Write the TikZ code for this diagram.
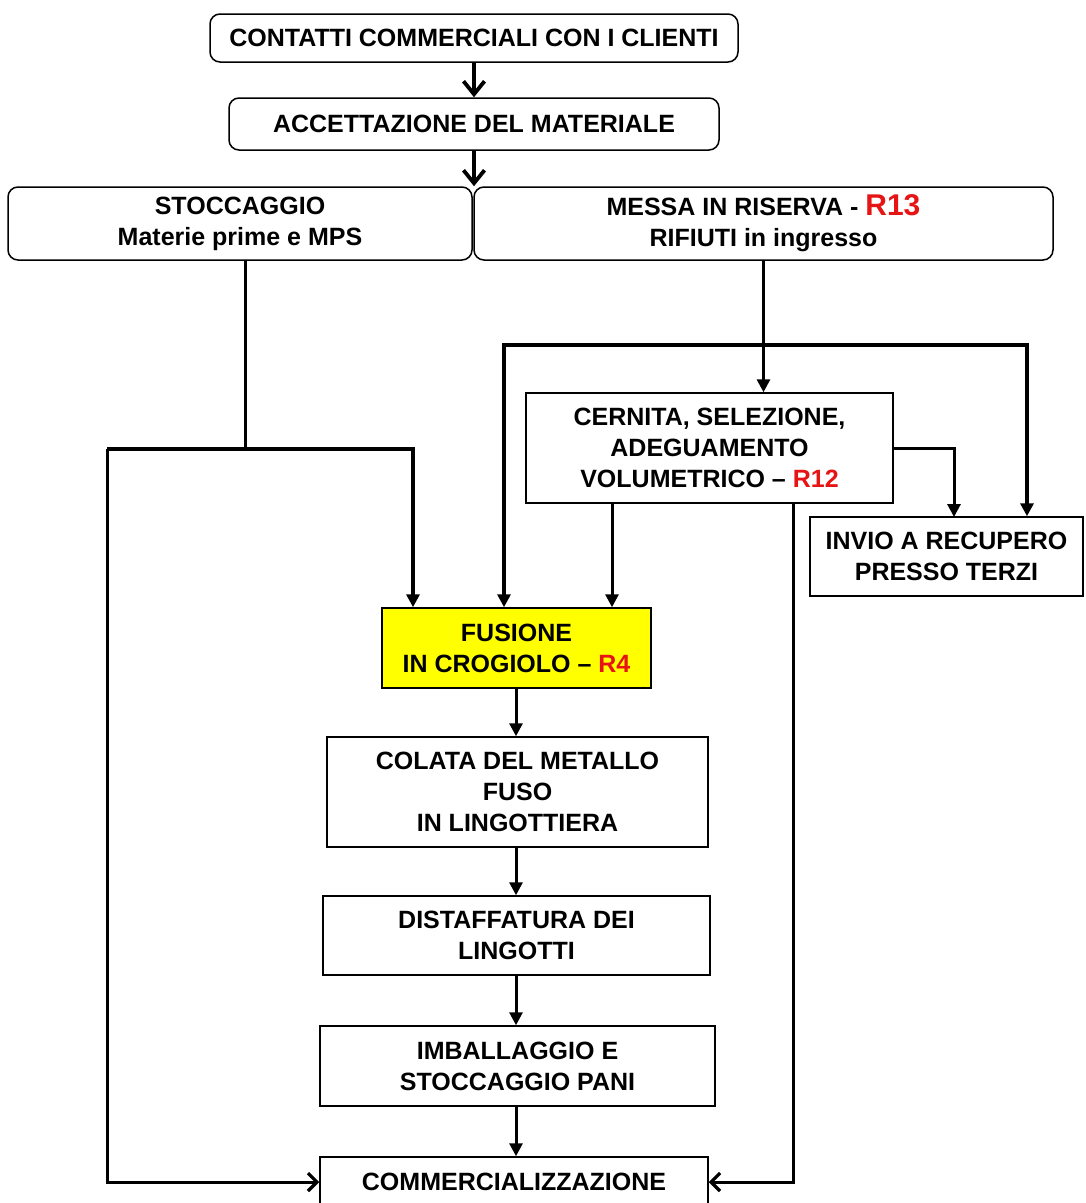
\documentclass[tikz,border=0pt]{standalone}
\usepackage{fontspec}
\setmainfont{Liberation Sans}
\usetikzlibrary{arrows.meta}
\definecolor{rr}{RGB}{230,20,20}
\definecolor{yel}{RGB}{255,255,0}
\begin{document}
\begin{tikzpicture}[x=1pt,y=-1pt,
  every node/.style={font=\fontsize{25}{31}\selectfont\bfseries, align=center, inner sep=0pt},
  rbox/.style={draw, fill=white, rounded corners=10pt, line width=1.5pt},
  sbox/.style={draw, fill=white, line width=1.5pt},
  conn/.style={line width=3pt},
  tconn/.style={line width=3.8pt},
  tri/.style={-{Triangle[length=13pt,width=13pt]}},
  vbarb/.style={-{Straight Barb[length=13pt,width=21pt,line width=3.8pt]}},
  hbarb/.style={-{Straight Barb[length=9pt,width=18pt,line width=3.2pt]}}]
\path[use as bounding box, fill=white] (0,0) rectangle (1086,1203);

% nodes
\node[rbox, minimum width=528pt, minimum height=48pt] (c1) at (474,38) {CONTATTI COMMERCIALI CON I CLIENTI};
\node[rbox, minimum width=490pt, minimum height=52pt] (c2) at (474,124) {ACCETTAZIONE DEL MATERIALE};
\node[rbox, minimum width=464pt, minimum height=73pt] (sto) at (240,223.5) {STOCCAGGIO\\Materie prime e MPS};
\node[rbox, minimum width=579pt, minimum height=73pt] (mes) at (763.5,223.5) {MESSA IN RISERVA - {\color{rr}\fontsize{30}{31}\selectfont R13}\\RIFIUTI in ingresso};
\node[sbox, minimum width=367pt, minimum height=110pt] (cer) at (709.5,448) {CERNITA, SELEZIONE,\\ADEGUAMENTO\\VOLUMETRICO -- {\color{rr}R12}};
\node[sbox, minimum width=273pt, minimum height=79pt] (inv) at (946.5,556.5) {INVIO A RECUPERO\\PRESSO TERZI};
\node[sbox, fill=yel, minimum width=269pt, minimum height=80pt] (fus) at (516.5,648) {FUSIONE\\IN CROGIOLO -- {\color{rr}R4}};
\node[sbox, minimum width=381pt, minimum height=110pt] (col) at (517.5,792) {COLATA DEL METALLO\\FUSO\\IN LINGOTTIERA};
\node[sbox, minimum width=387pt, minimum height=79pt] (dis) at (516.5,935.5) {DISTAFFATURA DEI\\LINGOTTI};
\node[sbox, minimum width=395pt, minimum height=80pt] (imb) at (517.5,1066) {IMBALLAGGIO E\\STOCCAGGIO PANI};
\node[sbox, minimum width=388pt, minimum height=50pt] (com) at (514,1182) {COMMERCIALIZZAZIONE};

% helper coordinates
\coordinate (jL) at (245,449);
\coordinate (xl) at (107,449);
\coordinate (xa) at (413,449);
\coordinate (hL) at (504,345);
\coordinate (hM) at (763.5,345);
\coordinate (hR) at (1027,345);
\coordinate (c612) at (612,0);
\coordinate (c954) at (954,517);
\coordinate (c793) at (793,0);
\coordinate (c516) at (516,0);

% top arrows
\draw[tconn, vbarb] (c1.south) -- (c2.north);
\draw[tconn, vbarb] (c2.south) -- (c2.south |- sto.north);

% left branch
\draw[conn] (sto.south -| jL) -- (jL);
\draw[tconn, tri] (xl) -- (xa) -- (xa |- fus.north);
\draw[conn, hbarb] (xl) |- (com.west);

% right branch
\draw[conn, tri] (mes.south) -- (mes.south |- cer.north);
\draw[tconn, tri] (hM) -- (hL) -- (hL |- fus.north);
\draw[tconn, tri] (hM) -- (hR) -- (hR |- inv.north);
\draw[conn, tri] (cer.south -| c612) -- (fus.north -| c612);
\draw[conn, tri] (cer.east) -| (c954);
\draw[conn, hbarb] (cer.south -| c793) |- (com.east);

% main chain
\draw[conn, tri] (fus.south -| c516) -- (col.north -| c516);
\draw[conn, tri] (col.south -| c516) -- (dis.north -| c516);
\draw[conn, tri] (dis.south -| c516) -- (imb.north -| c516);
\draw[conn, tri] (imb.south -| c516) -- (com.north -| c516);
\end{tikzpicture}
\end{document}
